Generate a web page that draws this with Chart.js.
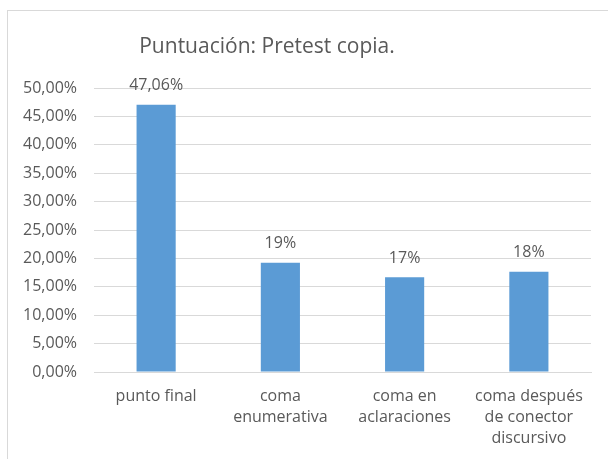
<!DOCTYPE html>
<html><head><meta charset="utf-8">
<script src="https://cdn.jsdelivr.net/npm/chart.js@4/dist/chart.umd.min.js"></script>
<style>html,body{margin:0;padding:0;background:#fff;}#wrap{width:608px;height:459px;position:relative;}</style>
</head><body><div id="wrap"><canvas id="c" width="608" height="459"></canvas></div>
<script>
const titleText = "Puntuación: Pretest copia.";
const categories = [["punto final"], ["coma","enumerativa"], ["coma en","aclaraciones"], ["coma después","de conector","discursivo"]];
const values = [47.06, 19.23, 16.67, 17.65];
const valueLabels = ["47,06%", "19%", "17%", "18%"];
const FONT = "'Open Sans', 'Liberation Sans', sans-serif";
const TXT = '#595959';

const framePlugin = {
  id: 'frame',
  beforeDraw(chart){
    const ctx = chart.ctx;
    ctx.save();
    ctx.fillStyle='#fff'; ctx.fillRect(0,0,chart.width,chart.height);
    ctx.strokeStyle='#D9D9D9'; ctx.lineWidth=1;
    ctx.strokeRect(7.5,10.5,800,800);
    ctx.restore();
  },
  afterDraw(chart){
    const ctx = chart.ctx;
    ctx.save();
    ctx.fillStyle=TXT;
    ctx.font = "21px " + FONT;
    ctx.textAlign='center'; ctx.textBaseline='middle';
    ctx.fillText(titleText, 267, 47);
    ctx.font = "16px " + FONT;
    const meta = chart.getDatasetMeta(0);
    meta.data.forEach((bar,i)=>{
      ctx.fillText(valueLabels[i], bar.x, bar.y - 19);
    });
    ctx.restore();
  }
};

new Chart(document.getElementById('c'), {
  type:'bar',
  data:{ labels:categories, datasets:[{ data:values, backgroundColor:'#5B9BD5', borderWidth:0, barPercentage:0.315, categoryPercentage:1 }]},
  options:{
    responsive:false, animation:false, devicePixelRatio:1,
    layout:{ padding:{ left:0, top:88, right:17, bottom:0 } },
    plugins:{ legend:{display:false}, tooltip:{enabled:false}, title:{display:false} },
    scales:{
      x:{
        grid:{ display:false, drawTicks:false },
        border:{ display:true, color:'#D9D9D9' },
        ticks:{ color:TXT, font:{ family:FONT, size:16, lineHeight:1.3 }, padding:14, maxRotation:0, autoSkip:false },
        afterFit(s){ s.height = 459 - 372; }
      },
      y:{
        min:0, max:50,
        grid:{ color:'#D9D9D9', drawTicks:false },
        border:{ display:false },
        ticks:{ stepSize:5, color:TXT, font:{ family:FONT, size:16 }, padding:17,
          callback:(v)=> v.toFixed(2).replace('.', ',') + '%' },
        afterFit(s){ s.width = 94; }
      }
    }
  },
  plugins:[framePlugin]
});
</script></body></html>
